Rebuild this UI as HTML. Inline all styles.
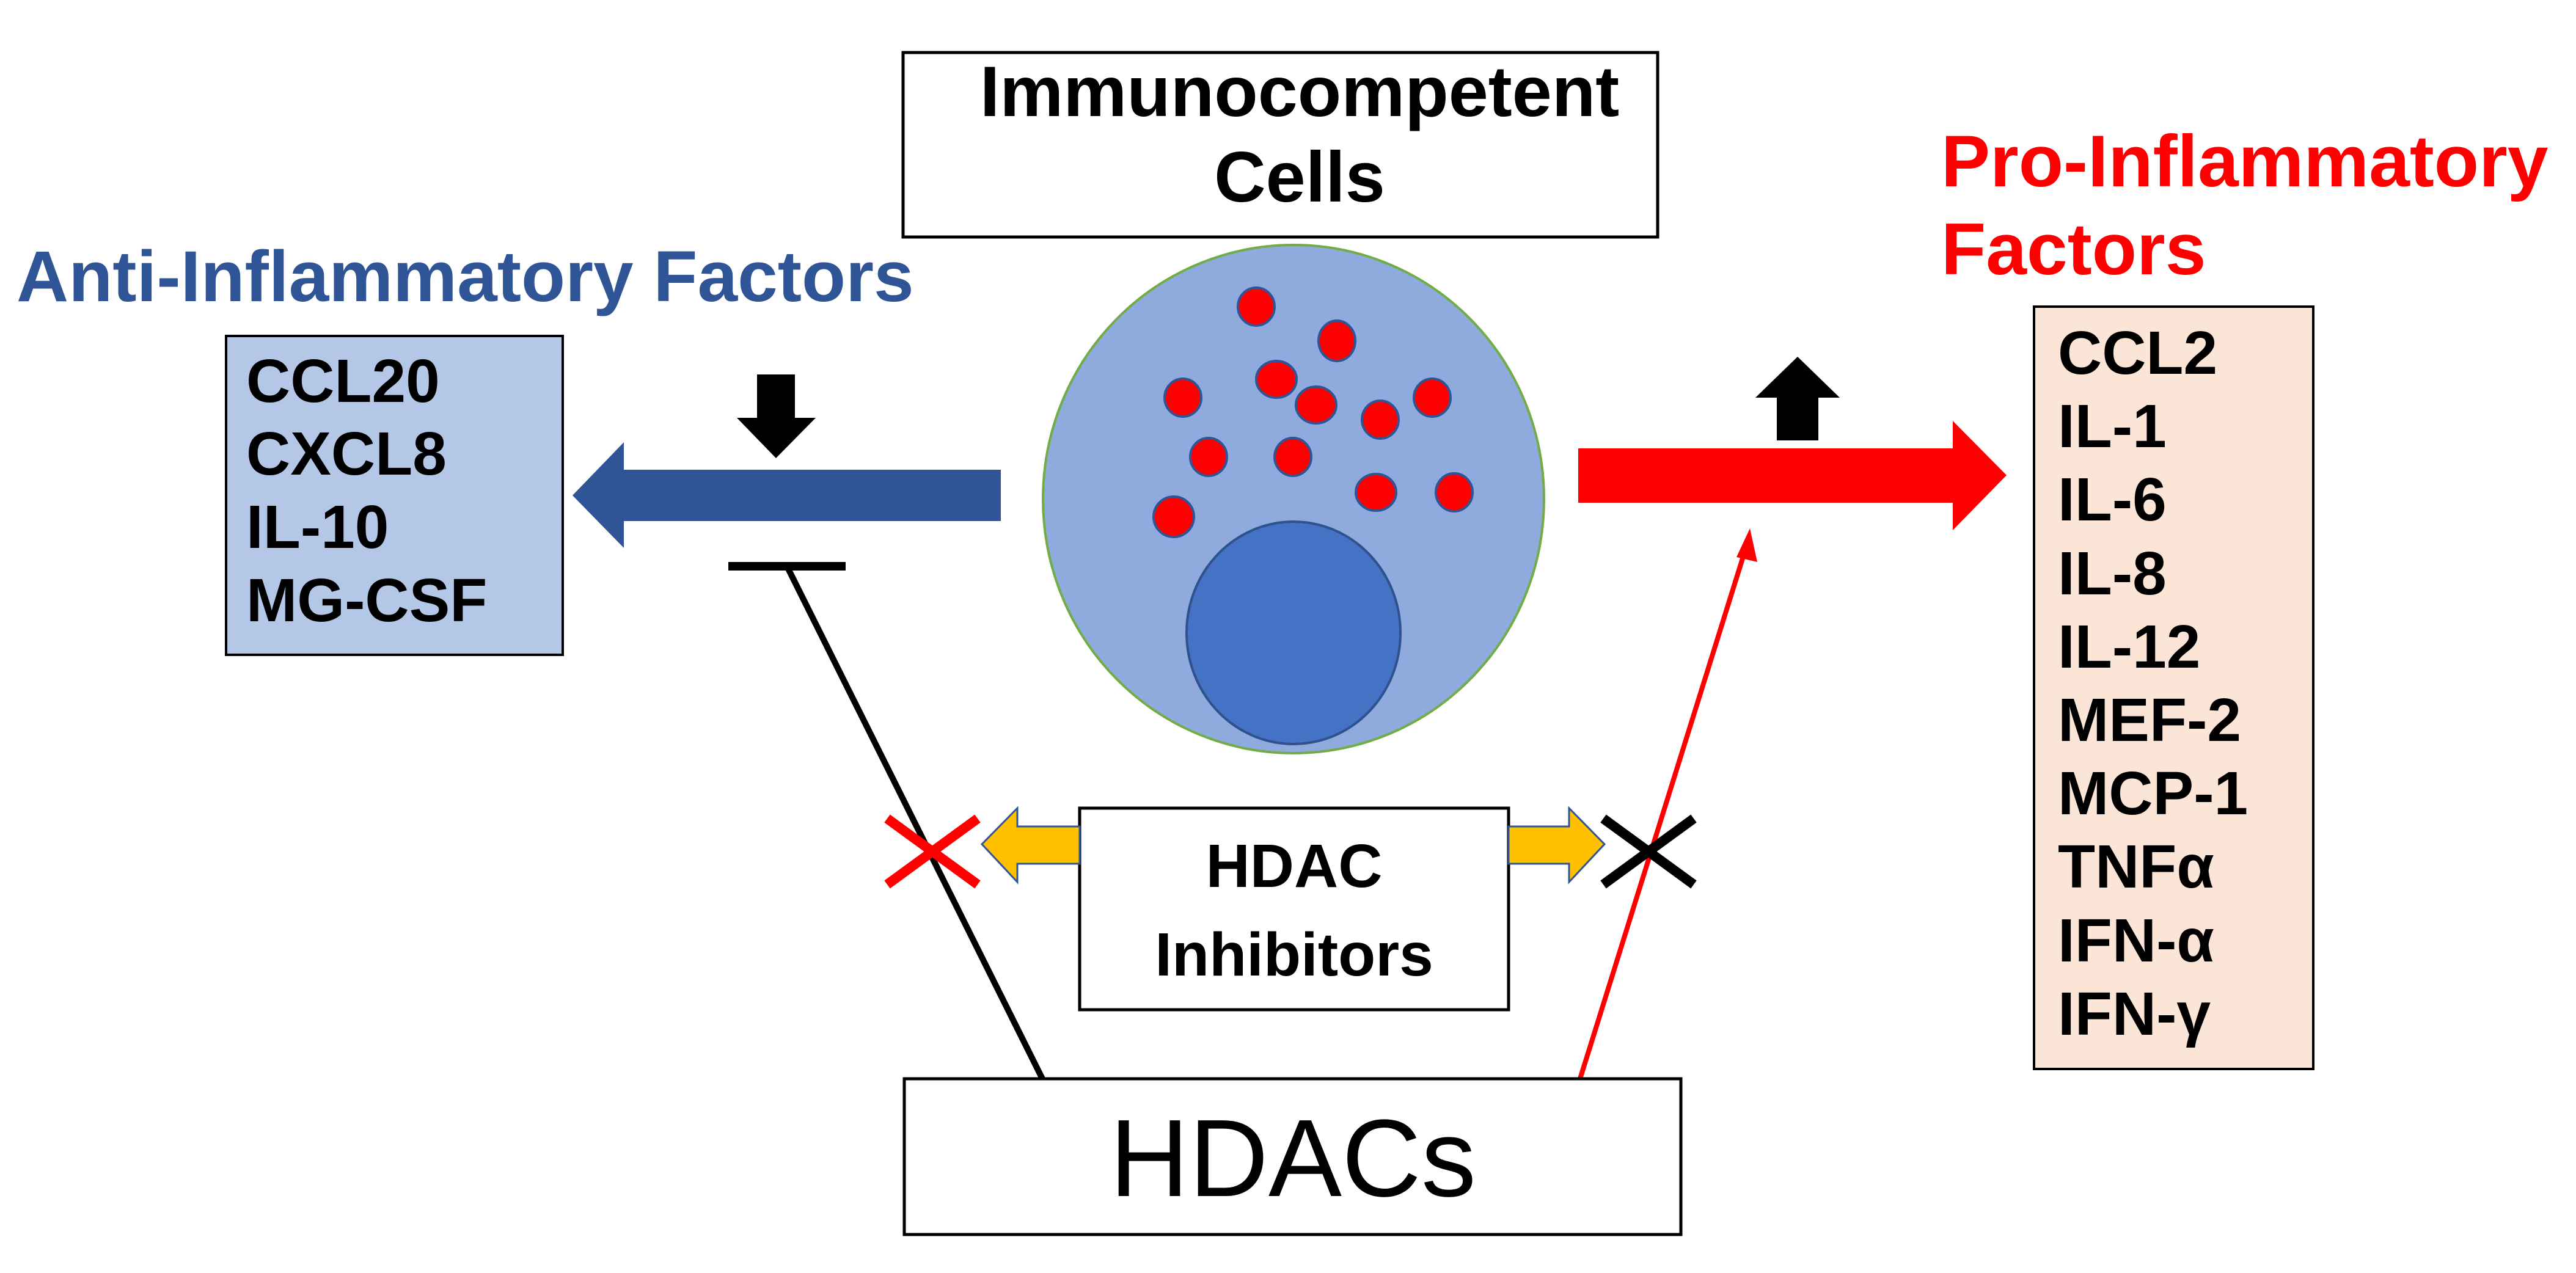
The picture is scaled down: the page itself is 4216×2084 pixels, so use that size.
<!DOCTYPE html>
<html><head><meta charset="utf-8"><style>
html,body{margin:0;padding:0;background:#fff;}
svg{display:block;}
text{font-family:"Liberation Sans",Arial,sans-serif;}
</style></head><body>
<svg width="4216" height="2084" viewBox="0 0 4216 2084" xmlns="http://www.w3.org/2000/svg">
<rect width="4216" height="2084" fill="#fff"/>
<!-- Immunocompetent box -->
<rect x="1478" y="86" width="1235" height="302" fill="#fff" stroke="#000" stroke-width="5"/>
<text x="2127" y="190" font-size="117" font-weight="bold" text-anchor="middle">Immunocompetent</text>
<text x="2127" y="330" font-size="117" font-weight="bold" text-anchor="middle">Cells</text>
<!-- Titles -->
<text x="27" y="493" font-size="118" font-weight="bold" fill="#2F5597">Anti-Inflammatory Factors</text>
<text x="3177" y="305" font-size="120" font-weight="bold" fill="#FF0000">Pro-Inflammatory</text>
<text x="3177" y="449" font-size="120" font-weight="bold" fill="#FF0000">Factors</text>
<!-- Anti box -->
<rect x="370" y="550" width="551" height="522" fill="#B4C7E7" stroke="#000" stroke-width="4"/>
<g font-size="100" font-weight="bold">
<text x="403" y="658">CCL20</text>
<text x="403" y="777">CXCL8</text>
<text x="403" y="897">IL-10</text>
<text x="403" y="1017">MG-CSF</text>
</g>
<!-- Pro box -->
<rect x="3329" y="502" width="457" height="1248" fill="#FBE5D6" stroke="#000" stroke-width="4"/>
<g font-size="100" font-weight="bold">
<text x="3368" y="612">CCL2</text>
<text x="3368" y="732">IL-1</text>
<text x="3368" y="852">IL-6</text>
<text x="3368" y="973">IL-8</text>
<text x="3368" y="1093">IL-12</text>
<text x="3368" y="1213">MEF-2</text>
<text x="3368" y="1333">MCP-1</text>
<text x="3368" y="1453">TNFα</text>
<text x="3368" y="1574">IFN-α</text>
<text x="3368" y="1694">IFN-γ</text>
</g>
<!-- Blue arrow -->
<polygon points="1638,769 1021,769 1021,724 937,811 1021,897 1021,853 1638,853" fill="#2F5597"/>
<!-- Down arrow -->
<polygon points="1239,613 1301,613 1301,684 1335,684 1270,750 1206,684 1239,684" fill="#000"/>
<!-- Red arrow -->
<polygon points="2583,734 3196,734 3196,689 3284,778 3196,868 3196,823 2583,823" fill="#FF0000"/>
<!-- Up arrow -->
<polygon points="2942,584 3011,651 2976,651 2976,721 2908,721 2908,651 2873,651" fill="#000"/>
<!-- Cell -->
<ellipse cx="2117" cy="817" rx="410" ry="416" fill="#8FAADC" stroke="#70AD47" stroke-width="4"/>
<g fill="#FF0000" stroke="#2F5597" stroke-width="4">
<ellipse cx="2056" cy="502" rx="30" ry="31"/>
<ellipse cx="2188" cy="558" rx="30" ry="33"/>
<ellipse cx="2089" cy="621" rx="33" ry="30"/>
<ellipse cx="1936" cy="651" rx="30" ry="31"/>
<ellipse cx="2154" cy="663" rx="33" ry="30"/>
<ellipse cx="2259" cy="687" rx="30" ry="31"/>
<ellipse cx="2344" cy="651" rx="30" ry="31"/>
<ellipse cx="1978" cy="748" rx="30" ry="31"/>
<ellipse cx="2116" cy="748" rx="30" ry="31"/>
<ellipse cx="2252" cy="806" rx="33" ry="30"/>
<ellipse cx="2380" cy="806" rx="30" ry="31"/>
<ellipse cx="1921" cy="846" rx="33" ry="33"/>
</g>
<ellipse cx="2117" cy="1036" rx="175" ry="182" fill="#4472C4" stroke="#2F528F" stroke-width="4"/>
<!-- T-bar inhibition line -->
<line x1="1192" y1="927" x2="1384" y2="927" stroke="#000" stroke-width="14"/>
<line x1="1288" y1="927" x2="1706" y2="1766" stroke="#000" stroke-width="10"/>
<!-- Red activation line -->
<line x1="2586" y1="1766" x2="2858" y2="895" stroke="#FF0000" stroke-width="8"/>
<polygon points="2864,865 2876,920 2842,912" fill="#FF0000"/>
<!-- HDAC Inhibitors box -->
<rect x="1767" y="1323" width="702" height="330" fill="#fff" stroke="#000" stroke-width="5"/>
<text x="2118" y="1452" font-size="100" font-weight="bold" text-anchor="middle">HDAC</text>
<text x="2118" y="1597" font-size="100" font-weight="bold" text-anchor="middle">Inhibitors</text>
<!-- Yellow arrows -->
<polygon points="1767,1353 1665,1353 1665,1323 1607,1382 1665,1444 1665,1414 1767,1414" fill="#FFC000" stroke="#2F5597" stroke-width="3"/>
<polygon points="2469,1353 2568,1353 2568,1323 2626,1382 2568,1444 2568,1414 2469,1414" fill="#FFC000" stroke="#2F5597" stroke-width="3"/>
<!-- X marks -->
<g stroke="#FF0000" stroke-width="16">
<line x1="1452" y1="1340" x2="1600" y2="1448"/>
<line x1="1600" y1="1340" x2="1452" y2="1448"/>
</g>
<g stroke="#000" stroke-width="16">
<line x1="2624" y1="1340" x2="2772" y2="1448"/>
<line x1="2772" y1="1340" x2="2624" y2="1448"/>
</g>
<!-- HDACs box -->
<rect x="1480" y="1766" width="1271" height="255" fill="#fff" stroke="#000" stroke-width="5"/>
<text x="2116" y="1958" font-size="180" text-anchor="middle">HDACs</text>
</svg>
</body></html>
